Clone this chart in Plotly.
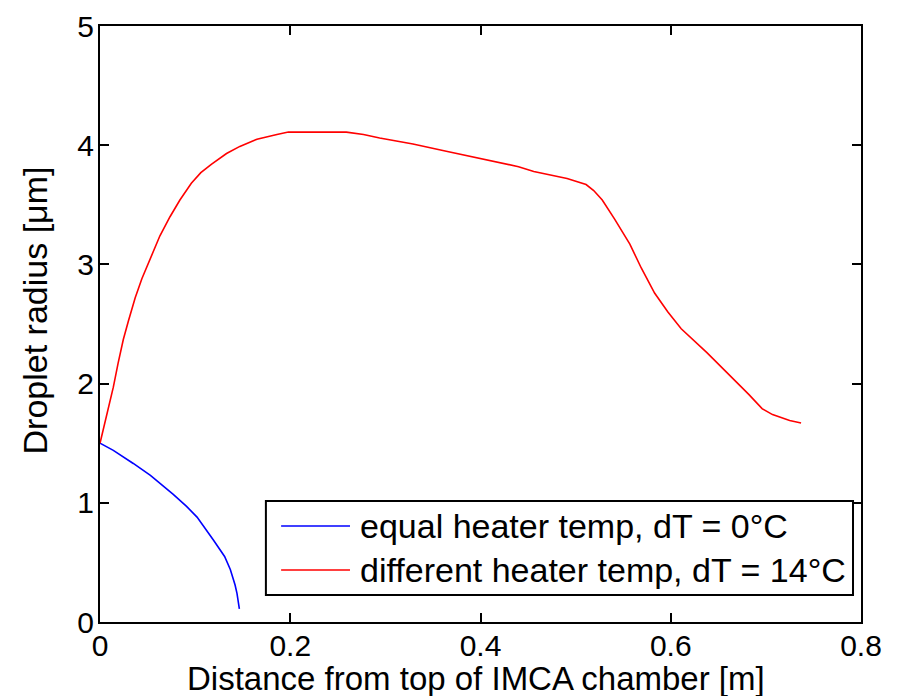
import plotly.graph_objects as go

# Equal heater temperature (dT = 0°C)
blue_x = [0.0, 0.014, 0.035, 0.053, 0.077, 0.091, 0.102, 0.112, 0.119, 0.131, 0.137,
          0.142, 0.144, 0.1465]
blue_y = [1.50, 1.44, 1.33, 1.23, 1.07, 0.97, 0.88, 0.77, 0.69, 0.55, 0.44,
          0.31, 0.24, 0.11]

# Different heater temperature (dT = 14°C)
red_x = [0.0, 0.0088, 0.014, 0.019, 0.0245, 0.030, 0.037, 0.044, 0.0535, 0.063, 0.0736,
         0.084, 0.096, 0.106, 0.117, 0.133, 0.147, 0.165, 0.186, 0.198, 0.259, 0.277,
         0.294, 0.329, 0.364, 0.400, 0.421, 0.440, 0.456, 0.491, 0.511, 0.519, 0.528,
         0.541, 0.557, 0.569, 0.583, 0.597, 0.611, 0.638, 0.682, 0.696, 0.707, 0.725,
         0.737]
red_y = [1.50, 1.78, 1.97, 2.17, 2.37, 2.53, 2.72, 2.88, 3.06, 3.24, 3.40,
         3.54, 3.68, 3.77, 3.84, 3.93, 3.99, 4.05, 4.09, 4.11, 4.11, 4.09,
         4.06, 4.01, 3.95, 3.89, 3.85, 3.82, 3.78, 3.72, 3.67, 3.62, 3.54,
         3.38, 3.17, 2.97, 2.76, 2.60, 2.46, 2.26, 1.91, 1.79, 1.74, 1.69,
         1.67]

x_ticks = [0, 0.2, 0.4, 0.6, 0.8]
x_tick_labels = ["0", "0.2", "0.4", "0.6", "0.8"]
y_ticks = [0, 1, 2, 3, 4, 5]
y_tick_labels = ["0", "1", "2", "3", "4", "5"]

x_title = "Distance from top of IMCA chamber [m]"
y_title = "Droplet radius [μm]"
series_names = ["equal heater temp, dT = 0°C", "different heater temp, dT = 14°C"]
series_colors = ["#0000FF", "#FF0000"]

FONT = "Liberation Sans, Arial, Helvetica, sans-serif"
FS = 30
FS_TITLE = 33
FS_LEG = 34

fig = go.Figure()
fig.add_trace(go.Scatter(x=blue_x, y=blue_y, mode="lines",
                         line=dict(color=series_colors[0], width=1.6),
                         name=series_names[0], showlegend=False))
fig.add_trace(go.Scatter(x=red_x, y=red_y, mode="lines",
                         line=dict(color=series_colors[1], width=1.6),
                         name=series_names[1], showlegend=False))

axis_common = dict(showline=True, linecolor="black", linewidth=2, mirror="ticks",
                   ticks="inside", ticklen=9, tickwidth=1.5, tickcolor="black",
                   showgrid=False, zeroline=False, automargin=False,
                   tickfont=dict(family=FONT, size=FS, color="black"))

fig.update_xaxes(range=[0, 0.8], tickvals=x_ticks, ticktext=x_tick_labels,
                 ticklabelstandoff=-4, **axis_common)
fig.update_yaxes(range=[0, 5], tickvals=y_ticks, ticktext=y_tick_labels,
                 ticklabelstandoff=-2, **axis_common)

# Legend box drawn in paper coordinates (plot area fractions)
leg_x0, leg_x1, leg_y0, leg_y1 = 0.218, 0.9895, 0.0453, 0.203
line_x0, line_x1, text_x = 0.238, 0.3285, 0.339
row_y = [0.161, 0.0872]

shapes = [dict(type="rect", xref="paper", yref="paper", x0=leg_x0, x1=leg_x1,
               y0=leg_y0, y1=leg_y1, line=dict(color="black", width=2),
               fillcolor="white", layer="above")]
annotations = []
for name, color, yy in zip(series_names, series_colors, row_y):
    shapes.append(dict(type="line", xref="paper", yref="paper", x0=line_x0, x1=line_x1,
                       y0=yy, y1=yy, line=dict(color=color, width=1.6), layer="above"))
    annotations.append(dict(xref="paper", yref="paper", x=text_x, y=yy, text=name,
                            showarrow=False, xanchor="left", yanchor="middle",
                            font=dict(family=FONT, size=FS_LEG, color="black")))

# Axis titles
annotations.append(dict(xref="paper", yref="paper", x=0.494, y=-0.094, text=x_title,
                        showarrow=False, xanchor="center", yanchor="middle",
                        font=dict(family=FONT, size=FS_TITLE, color="black")))
annotations.append(dict(xref="paper", yref="paper", x=-0.086, y=0.522, text=y_title,
                        showarrow=False, xanchor="center", yanchor="middle", textangle=-90,
                        font=dict(family=FONT, size=34, color="black")))

fig.update_layout(
    width=899, height=696,
    margin=dict(l=92, r=46, t=18, b=82),
    plot_bgcolor="white", paper_bgcolor="white",
    font=dict(family=FONT, size=FS, color="black"),
    showlegend=False,
    shapes=shapes, annotations=annotations,
)

fig.write_html("out.html")
